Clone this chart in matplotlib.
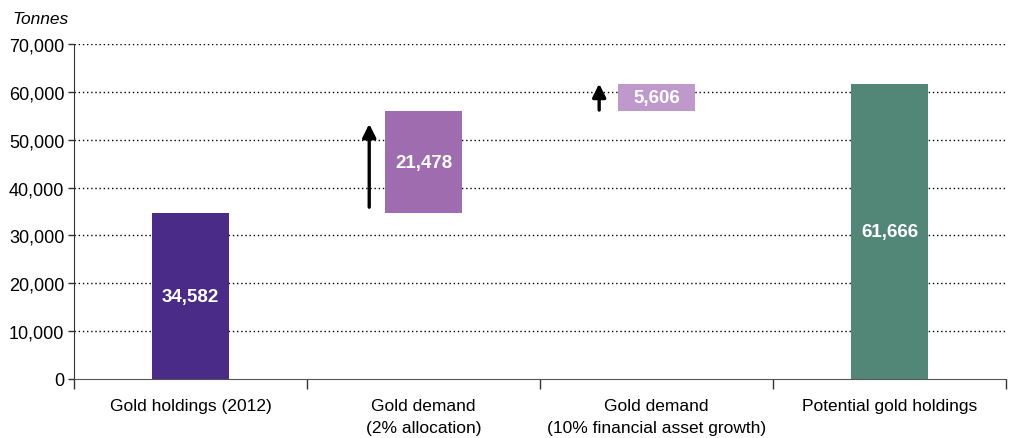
import numpy as np
import matplotlib
matplotlib.use("Agg")
import matplotlib.pyplot as plt

plt.rcParams['font.family'] = ['Liberation Sans', 'DejaVu Sans']

categories = ['Gold holdings (2012)', 'Gold demand\n(2% allocation)',
              'Gold demand\n(10% financial asset growth)', 'Potential gold holdings']
values = [34582, 21478, 5606, 61666]
labels = ['34,582', '21,478', '5,606', '61,666']
colors = ['#4a2c88', '#9e6caf', '#bf99cb', '#528777']

# waterfall bases: first and last from zero, middle stacked
bases = [0, values[0], values[0] + values[1], 0]

fig = plt.figure(figsize=(10.1, 4.39), dpi=100)
ax = fig.add_axes([0.0733, 0.1344, 0.9227, 0.7631])

x = np.arange(len(categories))
ax.bar(x, values, bottom=bases, width=0.33, color=colors, zorder=3)

for i in range(len(values)):
    ax.text(x[i], bases[i] + values[i] / 2, labels[i], ha='center', va='center',
            color='white', fontsize=13.5, fontweight='bold', zorder=4)

# arrows showing the increase
arrows = [(0.767, 35900, 53300), (1.754, 56200, 61700)]
for ax_x, y0, y1 in arrows:
    ax.annotate('', xy=(ax_x, y1), xytext=(ax_x, y0),
                arrowprops=dict(arrowstyle='-|>,head_width=0.4,head_length=0.8',
                                color='black', lw=2.4, shrinkA=0, shrinkB=0),
                zorder=4)

ax.set_xlim(-0.5, 3.5)
ax.set_ylim(0, 70000)
ax.set_yticks(np.arange(0, 70001, 10000))
ax.set_yticklabels(['{:,}'.format(v) for v in range(0, 70001, 10000)], fontsize=13)

ax.set_xticks(x)
ax.set_xticklabels(categories, fontsize=12.5, linespacing=1.55)
ax.tick_params(axis='x', length=0, pad=14)
ax.set_xticks([-0.5, 0.5, 1.5, 2.5, 3.5], minor=True)
ax.tick_params(axis='x', which='minor', length=7, width=1, color='#333333')
ax.tick_params(axis='y', length=4, width=1, pad=3, color='#333333')

for v in range(10000, 70001, 10000):
    ax.axhline(v, color='black', linestyle=(0, (1, 2)), lw=1, zorder=1)

for s in ['top', 'right']:
    ax.spines[s].set_visible(False)
ax.spines['left'].set_color('#333333')
ax.spines['bottom'].set_color('#555555')

fig.text(0.012, 0.945, 'Tonnes', fontsize=12.5, style='italic')

fig.savefig('out.png', dpi=100)
